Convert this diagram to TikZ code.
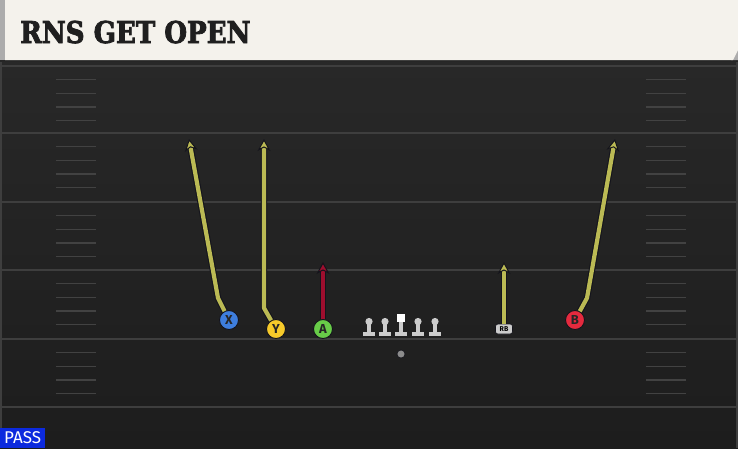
\documentclass[tikz,border=0pt]{standalone}
\usepackage{fontspec}
\usetikzlibrary{arrows.meta,positioning}
\newfontfamily\titlefont[FakeStretch=0.87,FakeBold=2.6]{DejaVu Serif Bold}
\newfontfamily\labelfont{Fira Sans}
\definecolor{cream}{RGB}{244,242,236}
\definecolor{stripgray}{RGB}{172,172,172}
\definecolor{fieldtop}{RGB}{40,40,40}
\definecolor{fieldbot}{RGB}{29,29,29}
\definecolor{yardgray}{RGB}{62,62,62}
\definecolor{hashgray}{RGB}{66,66,66}
\definecolor{routeyellow}{RGB}{187,186,84}
\definecolor{routered}{RGB}{158,14,46}
\definecolor{routeedge}{RGB}{20,20,28}
\definecolor{xblue}{RGB}{62,126,222}
\definecolor{yyellow}{RGB}{246,202,42}
\definecolor{agreen}{RGB}{104,204,72}
\definecolor{bred}{RGB}{228,42,62}
\definecolor{linegray}{RGB}{204,204,204}
\definecolor{passblue}{RGB}{12,42,222}
\tikzset{
  routeback/.style={draw=routeedge, line width=6.4pt, line join=round, shorten >=8pt},
  route/.style={draw=#1, line width=4.2pt, line join=round,
    -{Stealth[length=12pt,width=13pt,inset=3.5pt,line width=1pt,color=routeedge,fill=#1]}},
  route/.default=routeyellow,
  player/.style={circle, draw=routeedge, line width=0.9pt, minimum size=19pt, inner sep=0pt,
    text=black!85, font=\labelfont\bfseries\fontsize{13}{13}\selectfont},
  yardline/.style={draw=yardgray, line width=1.6pt},
  hashline/.style={draw=hashgray, line width=1.4pt}
}
\begin{document}
\begin{tikzpicture}[x=1pt,y=-1pt]
\useasboundingbox (0,0) rectangle (738,448);
%field
\shade[top color=fieldtop, bottom color=fieldbot] (0,60) rectangle (738,448);
\draw[yardgray, line width=1.5pt] (1,60) -- (1,448);
\draw[yardgray, line width=1.5pt] (737,60) -- (737,448);
\foreach \y in {66,133,202,270,339,407}
	\draw[yardline] (0,\y) -- (738,\y);
\foreach \b in {66,133,202,270,339}{
	\foreach \k in {1,2,3,4}{
		\draw[hashline] (56,\b+\k*13.6) -- (96,\b+\k*13.6);
		\draw[hashline] (646,\b+\k*13.6) -- (686,\b+\k*13.6);
	}
}
%header
\fill[black!85] (0,0) rectangle (738,61.5);
\fill[stripgray] (733,40) -- (738,40) -- (738,60) -- (731,60) -- cycle;
\fill[cream] (5,0) -- (738,0) -- (738,50) -- (733,60) -- (5,60) -- cycle;
\fill[stripgray] (0,0) rectangle (5,60);
\node[anchor=base west, inner sep=0pt, text=black!88, font=\titlefont\fontsize{30}{30}\selectfont] (title) at (20,43) {RNS GET OPEN};
%line
\foreach \x in {369,385,418,435}{
	\fill[linegray] (\x,321.5) circle (3.6);
	\fill[linegray] (\x-2.4,322) rectangle (\x+2.4,332);
	\fill[linegray] (\x-6,332) rectangle (\x+6,336);
}
\fill[white] (397,314) rectangle (405,322);
\fill[linegray] (398.6,322) rectangle (403.4,332);
\fill[linegray] (395,332) rectangle (407,336);
\node[circle, fill=black!45, draw=routeedge, line width=0.6pt, minimum size=8pt, inner sep=0pt] (qb) at (401,354) {};
%players
\node[player, fill=xblue] (X) at (229,320) {X};
\node[player, fill=yyellow] (Y) at (276,329) {Y};
\node[player, fill=agreen] (A) at (323,329) {A};
\node[player, fill=bred] (B) at (575,320) {B};
\node[draw=routeedge, fill=linegray, rounded corners=2.5pt, line width=0.6pt, minimum width=17pt, minimum height=10pt, inner sep=0pt, font=\labelfont\bfseries\fontsize{7}{7}\selectfont] (RB) at (504,329) {RB};
\coordinate (Xcut) at (218,298);
\coordinate (Xend) at (189,139);
\coordinate (Ycut) at (264,308);
\coordinate (Yend) at (264,139);
\coordinate (Aend) at (323,262);
\coordinate (RBend) at (504,262);
\coordinate (Bcut) at (587,298);
\coordinate (Bend) at (615,139);
%routes
\draw[routeback] (X) -- (Xcut) -- (Xend);
\draw[route] (X) -- (Xcut) -- (Xend);
\draw[routeback] (Y) -- (Ycut) -- (Yend);
\draw[route] (Y) -- (Ycut) -- (Yend);
\draw[routeback] (A) -- (Aend);
\draw[route=routered] (A) -- (Aend);
\draw[routeback] (RB) -- (RBend);
\draw[route] (RB) -- (RBend);
\draw[routeback] (B) -- (Bcut) -- (Bend);
\draw[route] (B) -- (Bcut) -- (Bend);
\node[anchor=south west, fill=passblue, text=white, inner sep=0pt, minimum width=45pt, minimum height=20pt, font=\labelfont\fontsize{17}{17}\selectfont] (play) at (0,448) {PASS};
\end{tikzpicture}
\end{document}
